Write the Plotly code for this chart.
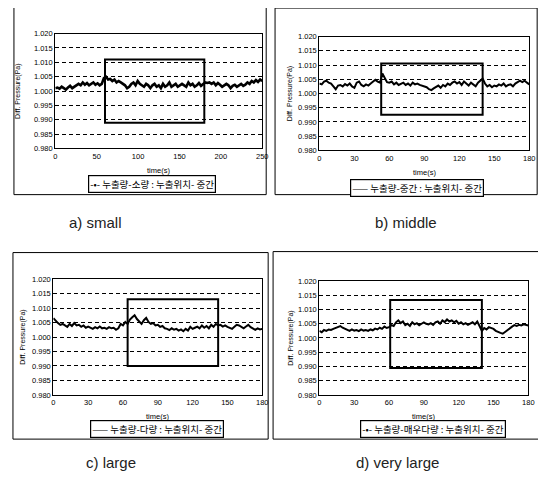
import numpy as np
import plotly.graph_objects as go

W, H = 546, 497
OFF = 8  # page body margin: the figure is drawn 8px right and down of the window corner

# ---------------- data ----------------
y_small = [1.0010, 1.0012, 1.0008, 1.0015, 1.0010, 1.0005, 1.0012, 1.0018, 1.0010,
           1.0015, 1.0020, 1.0025, 1.0020, 1.0030, 1.0022, 1.0028, 1.0020, 1.0025, 1.0030,
           1.0022, 1.0027, 1.0020, 1.0025,
           1.0045, 1.0050, 1.0040, 1.0042, 1.0035, 1.0040, 1.0030, 1.0035,
           1.0030, 1.0025, 1.0020, 1.0010, 1.0015, 1.0025, 1.0030, 1.0020, 1.0035, 1.0025,
           1.0020, 1.0015, 1.0025, 1.0020, 1.0010, 1.0020, 1.0025, 1.0015, 1.0020, 1.0010,
           1.0025, 1.0015, 1.0020, 1.0030, 1.0015, 1.0020, 1.0025, 1.0015, 1.0020, 1.0025,
           1.0020, 1.0015, 1.0030, 1.0020, 1.0025, 1.0015, 1.0020, 1.0028, 1.0018, 1.0025,
           1.0030, 1.0028, 1.0030, 1.0025, 1.0030, 1.0020, 1.0028, 1.0022, 1.0015, 1.0020,
           1.0025, 1.0020, 1.0010, 1.0018, 1.0022, 1.0015, 1.0020, 1.0025, 1.0018, 1.0022,
           1.0030, 1.0025, 1.0035, 1.0030, 1.0038, 1.0032, 1.0040, 1.0035]

y_middle = [1.0035, 1.0032, 1.0042, 1.0045, 1.0038, 1.0035, 1.0025, 1.0015, 1.0028, 1.0030,
            1.0025, 1.0033, 1.0028, 1.0035, 1.0025, 1.0020, 1.0038, 1.0042, 1.0030, 1.0025,
            1.0032, 1.0028, 1.0035, 1.0040, 1.0048, 1.0042, 1.0038, 1.0070, 1.0055, 1.0040,
            1.0038, 1.0042, 1.0032, 1.0038, 1.0030, 1.0035, 1.0038, 1.0030, 1.0035, 1.0028,
            1.0038, 1.0032, 1.0035, 1.0030, 1.0028, 1.0025, 1.0022, 1.0015, 1.0012, 1.0018,
            1.0022, 1.0028, 1.0020, 1.0030, 1.0025, 1.0035, 1.0030, 1.0038, 1.0042, 1.0035,
            1.0040, 1.0030, 1.0042, 1.0035, 1.0028, 1.0038, 1.0032, 1.0025, 1.0038, 1.0045,
            1.0052, 1.0035, 1.0025, 1.0030, 1.0022, 1.0028, 1.0025, 1.0032, 1.0028, 1.0035,
            1.0025, 1.0030, 1.0032, 1.0025, 1.0035, 1.0040, 1.0045, 1.0040, 1.0045, 1.0038,
            1.0032]

y_large = [1.0065, 1.0055, 1.0048, 1.0042, 1.0045, 1.0040, 1.0035, 1.0045, 1.0038, 1.0048,
           1.0040, 1.0042, 1.0035, 1.0040, 1.0032, 1.0036, 1.0033, 1.0028, 1.0034, 1.0030,
           1.0036, 1.0030, 1.0032, 1.0028, 1.0034, 1.0030, 1.0032, 1.0025, 1.0030, 1.0045,
           1.0040, 1.0052, 1.0045, 1.0060, 1.0068, 1.0075, 1.0062, 1.0052, 1.0045, 1.0058,
           1.0066, 1.0052, 1.0045, 1.0048, 1.0040, 1.0042, 1.0035, 1.0038, 1.0030, 1.0028,
           1.0024, 1.0030, 1.0025, 1.0028, 1.0022, 1.0026, 1.0020, 1.0028, 1.0022, 1.0035,
           1.0028, 1.0032, 1.0036, 1.0030, 1.0040, 1.0032, 1.0038, 1.0030, 1.0042, 1.0035,
           1.0045, 1.0040, 1.0042, 1.0036, 1.0040, 1.0035, 1.0032, 1.0028, 1.0035, 1.0042,
           1.0040, 1.0035, 1.0030, 1.0036, 1.0042, 1.0034, 1.0028, 1.0025, 1.0030, 1.0026,
           1.0028]

y_vlarge = [1.0025, 1.0020, 1.0028, 1.0025, 1.0030, 1.0028, 1.0032, 1.0035, 1.0038, 1.0042,
            1.0036, 1.0032, 1.0028, 1.0025, 1.0030, 1.0026, 1.0028, 1.0024, 1.0030, 1.0026,
            1.0028, 1.0025, 1.0030, 1.0027, 1.0033, 1.0030, 1.0036, 1.0032, 1.0040, 1.0035,
            1.0038, 1.0045, 1.0042, 1.0055, 1.0062, 1.0052, 1.0058, 1.0045, 1.0050, 1.0042,
            1.0055, 1.0048, 1.0052, 1.0045, 1.0050, 1.0055, 1.0050, 1.0048, 1.0052, 1.0046,
            1.0055, 1.0058, 1.0050, 1.0062, 1.0056, 1.0065, 1.0058, 1.0062, 1.0055, 1.0060,
            1.0050, 1.0055, 1.0048, 1.0052, 1.0046, 1.0050, 1.0055, 1.0048, 1.0058, 1.0042,
            1.0025, 1.0035, 1.0030, 1.0038, 1.0035, 1.0032, 1.0025, 1.0020, 1.0018, 1.0015,
            1.0022, 1.0028, 1.0035, 1.0040, 1.0045, 1.0042, 1.0046, 1.0044, 1.0048, 1.0045,
            1.0044]

t_end = [250, 180, 180, 180]
x_ticks_small = [0, 50, 100, 150, 200, 250]
x_ticks_other = [0, 30, 60, 90, 120, 150, 180]
y_ticks = [0.980, 0.985, 0.990, 0.995, 1.000, 1.005, 1.010, 1.015, 1.020]

# leak-interval boxes: start time, end time, lower, upper
box_t0 = [60, 53, 64, 61]
box_t1 = [180, 140, 142, 140]
box_lo = [0.989, 0.9925, 0.990, 0.9895]
box_hi = [1.011, 1.0105, 1.013, 1.0133]

legend_names = ["누출량-소량 : 누출위치- 중간",
                "누출량-중간 : 누출위치- 중간",
                "누출량-다량 : 누출위치- 중간",
                "누출량-매우다량 : 누출위치- 중간"]
legend_marks = ["-•-", "——", "——", "-•-"]
captions = ["a) small", "b) middle", "c) large", "d) very large"]

series = [y_small, y_middle, y_large, y_vlarge]

# ---------------- layout (window pixels) ----------------
plot_px = [(54, 264, 30, 147), (322, 535, 33, 149), (52, 264, 280, 398), (322, 534, 282, 398)]
frame_px = [(12, 268, 3, 194), (277, 543, 4, 194), (11, 270, 253, 443), (275, 545, 252, 443)]
line_w = [2.6, 2, 2, 2]
ytitle_x = [16, 293, 21, 293]
xtitle_y = [169, 171, 420, 420]
legend_c = [(152, 183), (421, 187), (157, 433), (437, 433)]
caption_c = [(95, 222), (410, 222), (110, 467), (401, 467)]

def px(x):
    return (x - OFF) / W

def py(y):
    return 1 - (y - OFF) / H

FONT = "Liberation Sans, Noto Sans CJK KR, sans-serif"
KFONT = "Noto Sans CJK KR, sans-serif"

fig = go.Figure()
layout = dict(width=W, height=H, margin=dict(l=0, r=0, t=0, b=0),
              paper_bgcolor="white", plot_bgcolor="white", showlegend=False)
shapes = []
annotations = []

for i in range(4):
    ax = "" if i == 0 else str(i + 1)
    xa, ya = "x" + ax, "y" + ax
    vals = series[i]
    t = np.linspace(0, t_end[i], len(vals))
    fig.add_trace(go.Scatter(x=t, y=vals, mode="lines", xaxis=xa, yaxis=ya,
                             line=dict(color="black", width=line_w[i])))
    x0, x1, y0, y1 = plot_px[i]
    ticks = x_ticks_small if i == 0 else x_ticks_other
    layout["xaxis" + ax] = dict(domain=[px(x0), px(x1)], anchor=ya, range=[0, t_end[i]],
                                tickvals=ticks, ticks="", showgrid=False, zeroline=False,
                                showline=True, linecolor="black", linewidth=1.2, mirror=True,
                                tickfont=dict(family=FONT, size=7.5, color="black"))
    layout["yaxis" + ax] = dict(domain=[py(y1), py(y0)], anchor=xa, range=[0.980, 1.020],
                                tickvals=y_ticks, tickformat=".3f", ticks="",
                                showgrid=True, gridcolor="black", griddash="4px,3px", gridwidth=1.2,
                                zeroline=False, showline=True, linecolor="black", linewidth=1.2,
                                mirror=True, tickfont=dict(family=FONT, size=7.5, color="black"))
    # leak interval box
    shapes.append(dict(type="rect", xref=xa, yref=ya, x0=box_t0[i], x1=box_t1[i],
                       y0=box_lo[i], y1=box_hi[i], line=dict(color="black", width=2)))
    # outer frame
    fx0, fx1, fy0, fy1 = frame_px[i]
    shapes.append(dict(type="rect", xref="paper", yref="paper", x0=px(fx0), x1=px(fx1),
                       y0=py(fy1), y1=py(fy0), line=dict(color="black", width=1)))
    # axis titles
    annotations.append(dict(text="Diff. Pressure(Pa)", textangle=-90, xref="paper", yref="paper",
                            x=px(ytitle_x[i]), y=py((y0 + y1) / 2), xanchor="center",
                            yanchor="middle", showarrow=False,
                            font=dict(family=FONT, size=7, color="black")))
    annotations.append(dict(text="time(s)", xref="paper", yref="paper",
                            x=px((x0 + x1) / 2), y=py(xtitle_y[i]), xanchor="center",
                            yanchor="middle", showarrow=False,
                            font=dict(family=FONT, size=7.5, color="black")))
    # legend box
    lx, ly = legend_c[i]
    annotations.append(dict(text=legend_marks[i] + " " + legend_names[i], xref="paper", yref="paper",
                            x=px(lx), y=py(ly), xanchor="center", yanchor="middle",
                            showarrow=False, bordercolor="black",
                            borderwidth=1.2, borderpad=1, bgcolor="white",
                            font=dict(family=KFONT, size=9.5, color="black")))
    # caption
    cx, cy = caption_c[i]
    annotations.append(dict(text=captions[i], xref="paper", yref="paper",
                            x=px(cx), y=py(cy), xanchor="center", yanchor="middle",
                            showarrow=False,
                            font=dict(family="Liberation Sans, sans-serif", size=15, color="#222")))

layout["shapes"] = shapes
layout["annotations"] = annotations
fig.update_layout(**layout)
fig.write_html("out.html")
